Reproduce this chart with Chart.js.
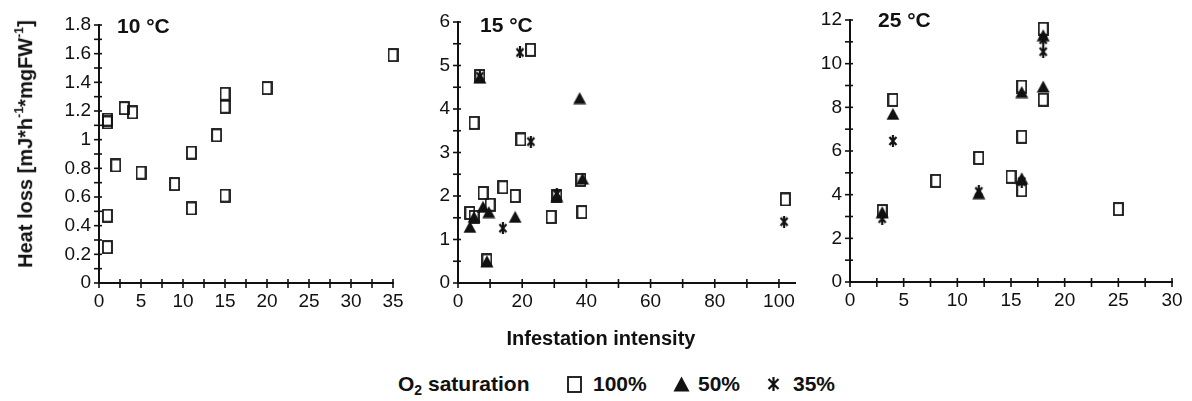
<!DOCTYPE html>
<html>
<head>
<meta charset="utf-8">
<script src="https://cdn.jsdelivr.net/npm/chart.js@4.4.0/dist/chart.umd.min.js"></script>
<style>
  body { margin: 0; background: #fff; width: 1192px; height: 401px; position: relative; overflow: hidden;
         font-family: 'Liberation Sans', Arial, sans-serif; color: #111; }
  canvas.panel { position: absolute; top: 0; }
  .lbl { position: absolute; font-weight: bold; white-space: nowrap; line-height: 1; }
  .ytitle { left: 24px; top: 144px; font-size: 20px; transform: translate(-50%, -50%) rotate(-90deg); }
  .ytitle sup { font-size: 0.62em; vertical-align: 0.7em; }
  .mk { position: absolute; }
</style>
</head>
<body>
<canvas id="c10" class="panel" width="420" height="320" style="left:0"></canvas>
<canvas id="c15" class="panel" width="400" height="320" style="left:410px"></canvas>
<canvas id="c25" class="panel" width="392" height="320" style="left:800px"></canvas>

<div class="lbl ytitle">Heat loss [mJ*h<sup>-1</sup>*mgFW<sup>-1</sup>]</div>
<div class="lbl" style="left:117px;top:15px;font-size:21px">10 °C</div>
<div class="lbl" style="left:480px;top:14px;font-size:21px">15 °C</div>
<div class="lbl" style="left:878px;top:9px;font-size:21px">25 °C</div>
<div class="lbl" style="left:601px;top:328px;font-size:20px;transform:translateX(-50%)">Infestation intensity</div>

<div class="lbl" style="left:398px;top:373px;font-size:21px">O<sub style="font-size:14px;vertical-align:-4px">2</sub> saturation</div>
<div class="lbl" style="left:593px;top:373px;font-size:21px">100%</div>
<div class="lbl" style="left:698px;top:373px;font-size:21px">50%</div>
<div class="lbl" style="left:793px;top:373px;font-size:21px">35%</div>

<script>
// 10 °C – nur 100 % O2
const t10_x_sq = [1, 1, 1, 1, 2, 3, 4, 5, 9, 11, 11, 14, 15, 15, 15, 20, 35];
const t10_y_sq = [1.12, 1.14, 0.47, 0.25, 0.82, 1.22, 1.19, 0.77, 0.69, 0.91, 0.52, 1.03, 1.32, 1.23, 0.61, 1.36, 1.59];

// 15 °C
const t15_x_sq = [3.7, 5, 5, 6.8, 7.8, 10, 9, 14, 17.8, 19.6, 22.6, 29, 30.8, 38.3, 38.6, 102];
const t15_y_sq = [1.61, 1.52, 3.68, 4.76, 2.07, 1.8, 0.52, 2.2, 2.0, 3.3, 5.36, 1.52, 2.0, 2.37, 1.63, 1.92];
const t15_x_tri = [3.7, 5, 6.8, 7.8, 9.6, 9, 17.8, 30.8, 37.9, 38.8];
const t15_y_tri = [1.29, 1.52, 4.72, 1.75, 1.63, 0.5, 1.52, 2.0, 4.25, 2.4];
const t15_x_ast = [6.8, 14, 19.3, 22.7, 30.8, 101.6];
const t15_y_ast = [4.75, 1.26, 5.3, 3.25, 2.05, 1.41];

// 25 °C
const t25_x_sq = [3, 4, 8, 12, 15, 16, 16, 16, 18, 18, 25];
const t25_y_sq = [3.25, 8.34, 4.63, 5.68, 4.82, 6.65, 8.95, 4.2, 8.35, 11.6, 3.34];
const t25_x_tri = [3, 4, 12, 16, 16, 18, 18];
const t25_y_tri = [3.2, 7.7, 4.07, 8.7, 4.75, 8.95, 11.3];
const t25_x_ast = [3, 4, 12, 16, 18, 18];
const t25_y_ast = [2.9, 6.46, 4.15, 4.6, 10.55, 11.1];

// Achsenbeschriftungen
const ticks10_x = [0, 5, 10, 15, 20, 25, 30, 35];
const ticks10_y = [0, 0.2, 0.4, 0.6, 0.8, 1, 1.2, 1.4, 1.6, 1.8];
const ticks15_x = [0, 20, 40, 60, 80, 100];
const ticks15_y = [0, 1, 2, 3, 4, 5, 6];
const ticks25_x = [0, 5, 10, 15, 20, 25, 30];
const ticks25_y = [0, 2, 4, 6, 8, 10, 12];

const ink = '#111';
Chart.defaults.font.family = "'Liberation Sans', Arial, sans-serif";
Chart.defaults.color = ink;

// Marker-Symbole als kleine Canvas
const makeSquare = (w, h) => {
    const c = document.createElement('canvas');
    c.width = w; c.height = h;
    const g = c.getContext('2d');
    g.strokeStyle = ink; g.lineWidth = 1.8;
    g.strokeRect(1, 1, w - 2, h - 2);
    return c;
};
const makeTriangle = (w, h) => {
    const c = document.createElement('canvas');
    c.width = w; c.height = h;
    const g = c.getContext('2d');
    g.fillStyle = ink;
    g.beginPath(); g.moveTo(w / 2, 0.5); g.lineTo(w - 0.5, h - 0.5); g.lineTo(0.5, h - 0.5); g.closePath(); g.fill();
    return c;
};
const makeAsterisk = (w, h) => {
    const c = document.createElement('canvas');
    c.width = w; c.height = h;
    const g = c.getContext('2d');
    g.strokeStyle = ink; g.lineWidth = 2.2;
    g.beginPath();
    g.moveTo(1.5, 2); g.lineTo(w - 1.5, h - 2);
    g.moveTo(w - 1.5, 2); g.lineTo(1.5, h - 2);
    g.moveTo(w / 2, 0); g.lineTo(w / 2, h);
    g.stroke();
    return c;
};

const sqMark = makeSquare(11, 14);
const triMark = makeTriangle(14, 13);
const astMark = makeAsterisk(10, 12);

const pts = (xs, ys) => xs.map((x, i) => ({ x: x, y: ys[i] }));

// Tick-Striche quer über die Achse (Haupt- und Nebenstriche)
const tickMarks = {
    id: 'tickMarks',
    afterDraw(chart, args, opts) {
        const ctx = chart.ctx;
        const xs = chart.scales.x, ys = chart.scales.y;
        ctx.save();
        ctx.strokeStyle = ink;
        ctx.lineWidth = 1.6;
        const nx = Math.round(opts.xEnd / opts.xStep);
        for (let i = 0; i <= nx; i++) {
            const px = xs.getPixelForValue(i * opts.xStep);
            ctx.beginPath(); ctx.moveTo(px, ys.bottom - 4); ctx.lineTo(px, ys.bottom + 5); ctx.stroke();
        }
        const ny = Math.round(ys.max / opts.yStep);
        for (let i = 0; i <= ny; i++) {
            const py = ys.getPixelForValue(i * opts.yStep);
            ctx.beginPath(); ctx.moveTo(xs.left - 5, py); ctx.lineTo(xs.left + 3, py); ctx.stroke();
        }
        ctx.restore();
    }
};

const buildPanel = (id, sets, cfg) => {
    const datasets = sets.map(s => ({
        data: s.data,
        pointStyle: s.mark,
        pointRadius: 6,
        order: s.order,
        clip: false,
        showLine: false
    }));
    new Chart(document.getElementById(id), {
        type: 'scatter',
        data: { datasets: datasets },
        plugins: [tickMarks],
        options: {
            responsive: false,
            animation: false,
            layout: { padding: cfg.pad },
            plugins: {
                legend: { display: false },
                tooltip: { enabled: false },
                tickMarks: { xStep: cfg.xMinor, xEnd: cfg.xTicks[cfg.xTicks.length - 1], yStep: cfg.yMinor }
            },
            scales: {
                x: {
                    type: 'linear', min: 0, max: cfg.xMax,
                    grid: { display: false, drawTicks: false },
                    border: { display: true, color: ink, width: 2 },
                    ticks: { padding: 7, font: { size: 19 }, color: ink, maxRotation: 0, callback: v => String(v) },
                    afterBuildTicks: s => { s.ticks = cfg.xTicks.map(v => ({ value: v })); },
                    afterFit: s => { s.height = cfg.xH; }
                },
                y: {
                    type: 'linear', min: 0, max: cfg.yMax,
                    grid: { display: false, drawTicks: false },
                    border: { display: true, color: ink, width: 2 },
                    ticks: { padding: 8, font: { size: 19 }, color: ink, callback: v => String(v) },
                    afterBuildTicks: s => { s.ticks = cfg.yTicks.map(v => ({ value: v })); },
                    afterFit: s => { s.width = cfg.yW; }
                }
            }
        }
    });
};

buildPanel('c10', [
    { data: pts(t10_x_sq, t10_y_sq), mark: sqMark, order: 3 }
], { pad: { left: 50, right: 27, top: 25, bottom: 7 }, yW: 49, xH: 30,
     xMax: 35, yMax: 1.8, xTicks: ticks10_x, yTicks: ticks10_y, xMinor: 2.5, yMinor: 0.1 });

buildPanel('c15', [
    { data: pts(t15_x_sq, t15_y_sq), mark: sqMark, order: 3 },
    { data: pts(t15_x_tri, t15_y_tri), mark: triMark, order: 2 },
    { data: pts(t15_x_ast, t15_y_ast), mark: astMark, order: 1 }
], { pad: { left: 8, right: 15, top: 22, bottom: 7 }, yW: 40, xH: 30,
     xMax: 105, yMax: 6, xTicks: ticks15_x, yTicks: ticks15_y, xMinor: 10, yMinor: 0.5 });

buildPanel('c25', [
    { data: pts(t25_x_sq, t25_y_sq), mark: sqMark, order: 3 },
    { data: pts(t25_x_tri, t25_y_tri), mark: triMark, order: 2 },
    { data: pts(t25_x_ast, t25_y_ast), mark: astMark, order: 1 }
], { pad: { left: 8, right: 20, top: 20, bottom: 8 }, yW: 42, xH: 30,
     xMax: 30, yMax: 12, xTicks: ticks25_x, yTicks: ticks25_y, xMinor: 2.5, yMinor: 1 });

// Legende: dieselben Symbole wie im Diagramm
const legendMarks = [
    { el: makeSquare(15, 17), left: 567, top: 376 },
    { el: makeTriangle(17, 16), left: 673, top: 376 },
    { el: makeAsterisk(13, 14), left: 767, top: 377 }
];
legendMarks.forEach(m => {
    m.el.className = 'mk';
    m.el.style.left = m.left + 'px';
    m.el.style.top = m.top + 'px';
    document.body.appendChild(m.el);
});
</script>
</body>
</html>
